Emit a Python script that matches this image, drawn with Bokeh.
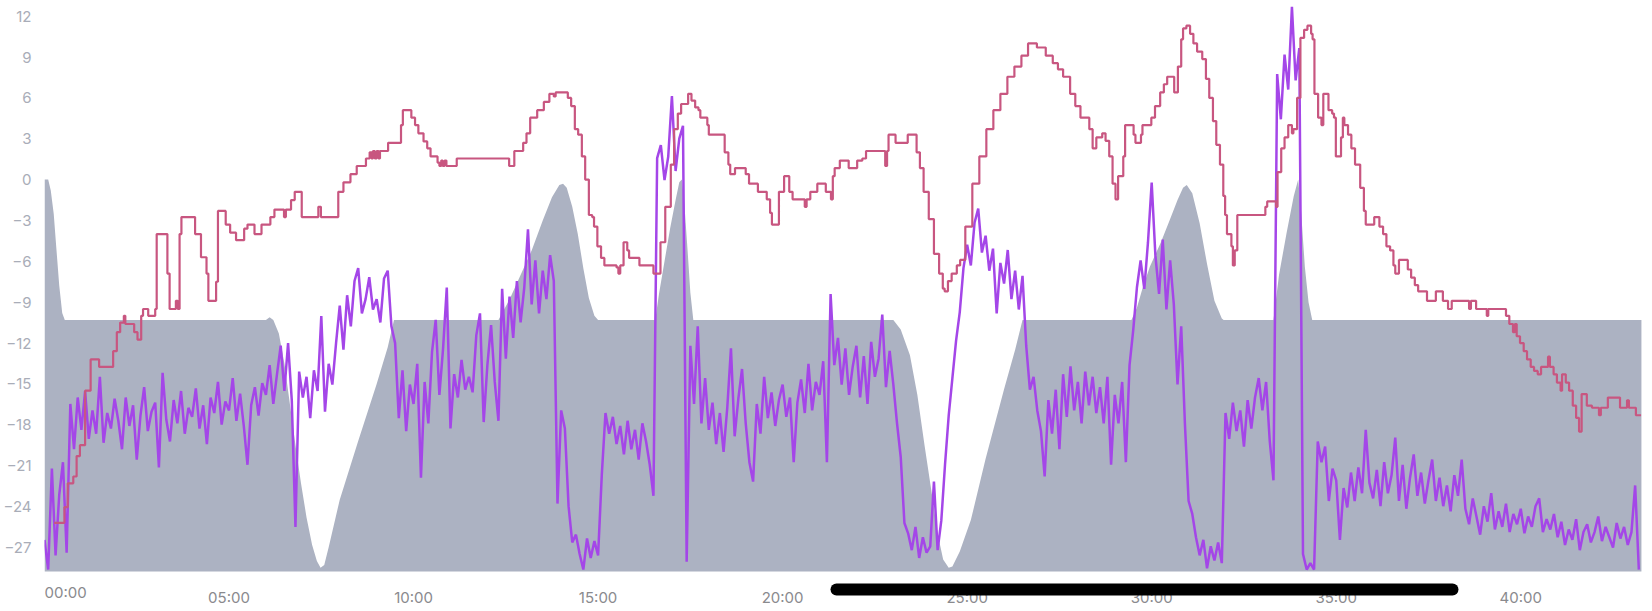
from bokeh.plotting import figure
from bokeh.models import Range1d, FixedTicker, Label, BoxAnnotation, LinearAxis
from bokeh.embed import file_html
from bokeh.resources import INLINE

# ---------------- data (time in minutes) ----------------
# grey area (left axis)
gray_t = [0.0, 0.1, 0.17, 0.25, 0.32, 0.4, 0.48, 0.55,
          6.0, 6.1, 6.2, 6.35, 6.5, 6.65, 6.8, 6.95, 7.1, 7.25, 7.38, 7.48, 7.58, 7.7, 8.0, 8.5, 9.0, 9.3, 9.47,
          12.3, 12.6, 12.9, 13.2, 13.5, 13.75, 13.95, 14.05, 14.15, 14.3, 14.45, 14.6, 14.75, 14.9, 15.0,
          16.55, 16.65, 16.8, 16.95, 17.1, 17.2, 17.27, 17.33, 17.42, 17.5, 17.58,
          23.0, 23.2, 23.45, 23.65, 23.85, 24.05, 24.2, 24.35, 24.5, 24.6, 24.8, 25.1, 25.5, 26.0, 26.3, 26.5,
          29.45, 29.6, 29.75, 29.95, 30.25, 30.5, 30.7, 30.85, 30.95, 31.1, 31.3, 31.5, 31.7, 31.9, 31.95,
          33.3, 33.45, 33.65, 33.85, 33.97, 34.05, 34.15, 34.25, 34.35,
          43.27]
gray_v = [0.0, 0.0, -0.8, -2.5, -5.0, -7.8, -9.8, -10.3,
          -10.3, -10.1, -10.3, -11.3, -13.5, -16.5, -19.5, -22.3, -24.8, -26.8, -28.0, -28.5, -28.3, -27.0, -23.5, -19.2, -15.0, -12.3, -10.3,
          -10.3, -8.8, -7.0, -5.2, -3.0, -1.3, -0.4, -0.3, -0.6, -2.0, -4.0, -6.5, -8.7, -10.0, -10.3,
          -10.3, -8.4, -6.0, -3.6, -1.5, -0.2, 0.0, -1.5, -5.0, -8.3, -10.3,
          -10.3, -11.0, -12.9, -15.8, -19.6, -23.2, -26.0, -27.9, -28.5, -28.4, -27.3, -25.0, -20.5, -15.4, -12.5, -10.3,
          -10.3, -9.4, -8.0, -6.4, -4.6, -2.9, -1.5, -0.6, -0.4, -1.0, -3.2, -6.2, -8.9, -10.2, -10.3,
          -10.3, -7.0, -4.0, -1.2, 0.0, -2.4, -6.4, -9.0, -10.3,
          -10.3]

# red stepped line (left axis)
red_t = [0.26, 0.49, 0.54, 0.63, 0.78, 0.87, 0.96, 1.1, 1.25, 1.44, 1.48, 1.77, 1.86, 1.96, 2.05, 2.15, 2.19, 2.33,
         2.43, 2.52, 2.62, 2.67, 2.76, 2.81, 2.95, 3.0, 3.04, 3.23, 3.33, 3.39, 3.52, 3.56, 3.61, 3.66, 3.71, 4.04,
         4.08, 4.18, 4.24, 4.32, 4.39, 4.44, 4.57, 4.65, 4.7, 4.84, 4.91, 4.98, 5.03, 5.17, 5.19, 5.36, 5.41, 5.5,
         5.64, 5.69, 5.83, 5.88, 6.07, 6.12, 6.21, 6.23, 6.45, 6.49, 6.54, 6.64, 6.68, 6.76, 6.78, 6.92, 6.97, 7.39,
         7.42, 7.47, 7.49, 7.86, 7.96, 8.05, 8.1, 8.24, 8.29, 8.43, 8.46, 8.67, 8.71, 8.81, 8.86, 8.9, 8.95, 9.0,
         9.05, 9.09, 9.28, 9.31, 9.57, 9.66, 9.71, 9.9, 9.94, 10.04, 10.13, 10.27, 10.37, 10.46, 10.65, 10.7, 10.75,
         10.79, 10.84, 10.89, 11.12, 11.17, 12.54, 12.59, 12.68, 12.73, 12.92, 12.97, 13.06, 13.16, 13.25, 13.35,
         13.53, 13.68, 13.8, 13.85, 14.08, 14.18, 14.27, 14.37, 14.46, 14.56, 14.65, 14.75, 14.84, 14.89, 14.98,
         15.08, 15.17, 15.5, 15.55, 15.6, 15.69, 15.79, 15.84, 16.07, 16.12, 16.45, 16.5, 16.64, 16.69, 16.82,
         16.97, 17.06, 17.16, 17.25, 17.44, 17.53, 17.63, 17.72, 17.77, 17.86, 17.96, 18.0, 18.34, 18.43, 18.53,
         18.58, 18.67, 18.71, 18.95, 19.0, 19.09, 19.23, 19.33, 19.47, 19.57, 19.66, 19.71, 19.85, 19.9, 20.04,
         20.11, 20.18, 20.27, 20.56, 20.6, 20.65, 20.75, 20.89, 20.94, 21.12, 21.17, 21.27, 21.31, 21.36, 21.41,
         21.55, 21.74, 21.79, 21.93, 22.02, 22.16, 22.26, 22.73, 22.78, 22.83, 22.87, 23.01, 23.06, 23.35, 23.39,
         23.53, 23.63, 23.72, 23.82, 23.96, 24.1, 24.24, 24.34, 24.39, 24.48, 24.58, 24.72, 24.81, 24.95, 25.14,
         25.33, 25.52, 25.71, 25.9, 26.09, 26.28, 26.47, 26.65, 26.8, 26.89, 27.13, 27.32, 27.46, 27.6, 27.79,
         27.93, 28.07, 28.26, 28.31, 28.4, 28.5, 28.66, 28.75, 28.85, 28.94, 29.02, 29.09, 29.18, 29.23, 29.28,
         29.42, 29.51, 29.56, 29.66, 29.71, 29.75, 29.9, 29.99, 30.09, 30.23, 30.33, 30.42, 30.56, 30.61, 30.66,
         30.71, 30.8, 30.85, 30.94, 31.04, 31.13, 31.23, 31.37, 31.47, 31.56, 31.66, 31.75, 31.85, 31.94, 31.99,
         32.04, 32.08, 32.16, 32.2, 32.25, 32.32, 33.03, 33.08, 33.13, 33.32, 33.37, 33.41, 33.51, 33.6, 33.7,
         33.8, 33.84, 33.94, 34.03, 34.13, 34.22, 34.32, 34.36, 34.41, 34.51, 34.6, 34.65, 34.75, 34.79, 34.89,
         34.94, 34.99, 35.08, 35.13, 35.18, 35.22, 35.32, 35.41, 35.51, 35.65, 35.75, 35.8, 35.99, 36.03, 36.13,
         36.17, 36.27, 36.36, 36.46, 36.55, 36.6, 36.7, 36.89, 36.94, 37.03, 37.13, 37.22, 37.36, 37.46, 37.65,
         37.7, 37.84, 37.89, 37.99, 38.03, 38.13, 38.55, 38.6, 38.65, 38.74, 38.79, 39.03, 39.08, 39.12, 39.5,
         39.6, 39.69, 39.79, 39.84, 39.89, 39.98, 40.08, 40.17, 40.27, 40.36, 40.46, 40.55, 40.65, 40.74, 40.79,
         40.89, 40.98, 41.08, 41.12, 41.22, 41.31, 41.41, 41.5, 41.58, 41.65, 41.79, 41.93, 42.07, 42.12, 42.17,
         42.31, 42.36, 42.64, 42.69, 42.83, 42.88, 42.93, 43.07, 43.12, 43.26]
red_v = [-25.2, -25.2, -24.05, -22.3, -21.8, -20.3, -19.5, -15.5, -13.2, -13.2, -13.75, -13.75, -12.6, -11.2, -10.5, -10.0, -10.6, -10.6,
         -11.2, -11.75, -10.0, -9.5, -9.5, -10.0, -10.0, -9.5, -4.0, -4.0, -6.9, -9.5, -9.5, -8.9, -9.5, -4.0, -2.75, -2.75,
         -4.0, -4.0, -5.7, -5.7, -6.9, -8.9, -8.9, -7.5, -2.3, -2.3, -3.3, -3.3, -3.9, -3.9, -4.45, -4.45, -3.6, -3.3,
         -3.3, -4.0, -4.0, -3.3, -3.3, -2.75, -2.75, -2.2, -2.2, -2.75, -2.2, -2.2, -1.5, -1.5, -0.9, -0.9, -2.75, -2.75,
         -2.0, -2.0, -2.75, -2.75, -0.9, -0.9, -0.2, -0.2, 0.4, 0.4, 1.0, 1.0, 1.55, 2.0, 1.55, 2.1, 1.55, 2.1,
         1.55, 2.1, 2.1, 2.7, 2.7, 4.0, 5.1, 5.1, 4.55, 4.0, 3.4, 2.8, 2.3, 1.7, 1.25, 1.0, 1.4,
         1.0, 1.4, 1.0, 1.0, 1.55, 1.55, 1.0, 1.0, 2.1, 2.1, 2.7, 3.4, 4.55, 4.55, 5.1,
         5.7, 6.3, 6.1, 6.4, 6.4, 6.0, 5.4, 3.7, 3.3, 1.7, 0.0, -2.6, -2.75, -3.45, -4.9,
         -5.75, -6.3, -6.45, -6.9, -6.3, -4.6, -5.2, -5.75, -5.75, -6.3, -6.3, -6.9, -6.9, -4.6, -2.0,
         1.1, 3.7, 4.85, 5.55, 6.3, 5.8, 5.3, 5.1, 4.55, 4.55, 4.0, 3.3, 3.3, 2.0, 1.1,
         0.4, 0.4, 0.85, 0.85, 0.4, -0.3, -0.3, -0.9, -0.9, -1.45, -2.45, -3.3, -3.3, -0.9, 0.25,
         0.25, -0.9, -1.45, -1.45, -2.0, -1.45, -0.9, -0.9, -0.3, -0.3, -0.9, -0.9, -1.45, 0.25, 0.85,
         1.4, 1.4, 0.85, 0.85, 1.4, 1.55, 2.1, 2.1, 1.0, 2.1, 3.3, 3.3, 2.7, 2.7, 3.3,
         3.3, 2.0, 0.85, -0.9, -2.9, -5.45, -6.9, -8.0, -8.2, -7.45, -6.9, -6.3, -5.9, -3.45, -0.3,
         1.7, 3.7, 5.1, 6.3, 7.55, 8.3, 9.1, 10.0, 10.0, 9.7, 9.1, 8.55, 8.1, 7.55, 6.3,
         5.4, 4.55, 4.55, 3.7, 2.3, 3.1, 3.4, 2.85, 1.7, -0.3, -1.45, 0.25, 0.25, 1.7, 4.0,
         4.0, 3.3, 2.7, 2.7, 3.3, 4.0, 4.0, 4.55, 5.4, 6.4, 7.0, 7.55, 7.55, 6.4, 6.4,
         8.3, 10.3, 11.1, 11.3, 10.7, 10.0, 9.4, 8.85, 7.4, 6.0, 4.3, 2.55, 1.1, -1.2, -2.6,
         -4.0, -4.0, -4.9, -6.3, -5.2, -2.6, -2.6, -2.0, -1.6, -1.6, -2.0, 0.55, 2.3, 3.1, 4.0,
         3.4, 3.7, 6.0, 10.4, 11.0, 11.3, 10.7, 10.3, 6.3, 4.55, 4.0, 6.3, 6.3, 5.1, 4.85,
         4.55, 1.7, 1.7, 3.1, 4.55, 4.0, 3.3, 2.3, 1.1, -0.6, -2.3, -3.3, -3.3, -2.75, -2.75,
         -3.45, -4.0, -4.9, -5.2, -6.3, -6.9, -5.9, -5.9, -6.6, -7.2, -7.75, -8.2, -8.2, -8.9, -8.9,
         -8.2, -8.2, -8.9, -8.9, -9.5, -8.9, -8.9, -9.5, -8.9, -8.9, -9.5, -9.5, -10.0, -9.5, -9.5,
         -10.0, -10.6, -11.2, -10.6, -11.5, -12.0, -12.6, -13.2, -13.75, -14.05, -14.3, -13.75, -13.75, -13.0, -13.75,
         -14.3, -14.9, -15.5, -14.3, -14.9, -15.5, -16.6, -17.5, -18.5, -15.75, -16.6, -16.75, -16.75, -17.3, -16.75,
         -16.75, -16.0, -16.0, -16.75, -16.75, -16.2, -16.75, -16.75, -17.3, -17.3]

# purple line (right axis), one reading every 6 s (0.1 min)
purple_step = 0.1
purple_v = [
    2.0, -0.3, 7.5, 0.8, 5.5, 8.0, 1.0, 12.5, 9.0, 13.0,          # 0
    10.5, 13.5, 9.8, 12.0, 10.2, 14.6, 9.5, 11.8, 10.6, 12.9,     # 1
    11.2, 9.0, 13.0, 10.8, 12.4, 8.2, 11.6, 13.8, 10.4, 11.9,     # 2
    12.6, 7.6, 14.9, 11.3, 9.6, 12.8, 11.0, 13.5, 10.2, 12.2,     # 3
    11.5, 13.7, 10.6, 12.4, 9.4, 13.0, 11.8, 14.2, 10.9, 12.7,    # 4
    12.0, 14.5, 11.2, 13.3, 10.8, 7.8, 12.4, 13.8, 11.6, 14.1,    # 5
    13.2, 15.5, 12.5, 14.8, 17.0, 13.5, 17.2, 12.8, 3.0, 15.0,    # 6
    13.0, 14.6, 11.4, 15.1, 13.5, 19.3, 11.9, 15.6, 14.0, 17.2,   # 7
    20.1, 16.7, 20.9, 18.5, 22.0, 23.0, 19.5, 20.6, 22.3, 19.8,   # 8
    20.6, 18.8, 22.2, 22.8, 18.5, 17.2, 11.4, 15.1, 10.4, 14.0,   # 9
    12.5, 15.6, 6.8, 14.2, 11.0, 16.5, 19.0, 13.2, 16.8, 21.5,    # 10
    10.6, 14.8, 13.0, 15.9, 13.6, 14.6, 13.4, 17.8, 19.5, 11.1,   # 11
    15.5, 18.6, 14.2, 11.2, 21.4, 16.0, 20.8, 17.6, 22.0, 18.8,   # 12
    21.5, 26.0, 20.2, 23.6, 19.5, 22.8, 20.6, 24.0, 22.0, 4.8,    # 13
    12.0, 10.6, 4.6, 1.8, 2.4, 0.9, -0.3, 2.1, 0.6, 1.9,          # 14
    0.8, 7.0, 11.8, 10.2, 11.5, 9.4, 10.8, 8.6, 11.2, 9.0,        # 15
    10.5, 8.2, 11.0, 9.6, 7.8, 5.4, 31.5, 32.5, 29.8, 31.6,       # 16
    36.3, 30.5, 33.0, 34.0, 0.3, 17.0, 12.5, 18.5, 11.0, 14.5,    # 17
    10.5, 12.6, 9.4, 11.8, 8.8, 12.2, 16.8, 10.0, 12.9, 15.2,     # 18
    11.0, 8.0, 6.5, 12.5, 10.2, 14.6, 11.4, 13.4, 10.8, 12.8,     # 19
    14.0, 11.5, 13.0, 8.0, 12.6, 14.4, 11.8, 15.6, 12.0, 14.2,    # 20
    13.2, 15.8, 8.0, 21.0, 15.5, 17.6, 14.0, 16.8, 13.2, 15.4,    # 21
    17.0, 13.0, 16.2, 12.5, 17.3, 14.6, 16.0, 19.4, 13.8, 16.6,   # 22
    14.0, 11.0, 8.4, 3.3, 2.5, 1.2, 3.0, 0.6, 2.2, 1.0,           # 23
    1.5, 6.5, 1.2, 3.5, 7.8, 11.6, 14.5, 17.4, 19.6, 23.0,        # 24
    24.8, 23.2, 26.5, 27.6, 24.2, 25.5, 22.8, 24.5, 19.5, 23.4,   # 25
    21.8, 24.4, 20.6, 22.8, 19.8, 22.4, 17.0, 13.6, 14.6, 12.0,   # 26
    10.4, 6.9, 12.8, 10.2, 13.6, 9.0, 14.8, 11.5, 15.4, 12.0,     # 27
    14.2, 11.0, 15.0, 12.4, 14.6, 11.8, 13.8, 11.0, 14.6, 7.8,    # 28
    13.2, 11.0, 14.2, 8.0, 15.5, 18.2, 21.5, 23.6, 21.4, 25.0,    # 29
    29.6, 24.0, 21.0, 25.2, 19.8, 23.6, 20.2, 14.0, 18.5, 11.0,   # 30
    5.0, 4.0, 2.2, 0.8, 2.0, -0.2, 1.5, 0.4, 1.8, 0.2,            # 31
    11.8, 9.8, 12.6, 10.4, 12.0, 9.2, 12.8, 10.6, 13.0, 14.5,     # 32
    12.0, 14.2, 9.6, 6.6, 38.0, 34.5, 39.5, 36.8, 43.2, 37.5,     # 33
    40.0, 0.9, -0.3, 0.2, -0.3, 9.6, 8.0, 9.2, 5.0, 7.5,          # 34
    6.6, 2.0, 6.0, 4.5, 7.2, 5.0, 7.6, 5.6, 10.5, 6.4,            # 35
    5.2, 7.4, 4.6, 8.0, 5.6, 7.0, 9.9, 5.0, 7.8, 4.4,             # 36
    6.8, 8.6, 5.4, 7.2, 4.8, 6.6, 8.2, 5.0, 6.8, 4.6,             # 37
    6.2, 4.2, 7.0, 5.4, 8.2, 4.4, 3.2, 5.2, 3.8, 2.4,             # 38
    4.6, 3.4, 5.6, 2.8, 4.2, 3.0, 4.8, 2.6, 4.0, 3.2,             # 39
    4.4, 2.5, 3.8, 3.0, 4.6, 5.2, 2.6, 3.6, 2.8, 4.0,             # 40
    2.2, 3.4, 1.6, 2.8, 2.0, 3.6, 1.2, 2.6, 3.2, 1.8,             # 41
    2.6, 3.8, 1.9, 3.0, 2.2, 1.4, 3.3, 2.1, 3.0, 1.6,             # 42
    2.6, 6.2, -0.3,                                               # 43
]
purple_t = [round(i * purple_step, 2) for i in range(len(purple_v))]

left_ticks = [-27, -24, -21, -18, -15, -12, -9, -6, -3, 0, 3, 6, 9, 12]
right_ticks = [12, 18, 24, 30, 36, 42]
x_ticks = [0, 5, 10, 15, 20, 25, 30, 35, 40]
x_tick_labels = ["00:00", "05:00", "10:00", "15:00", "20:00", "25:00", "30:00", "35:00", "40:00"]

# ---------------- layout constants ----------------
DATA_END = 43.27          # last sample (right edge of the plotted data)
GRAY_BASE = -28.77        # left-axis value at the bottom of the plotted area
LEFT_RANGE = (-31.71, 13.15)
RIGHT_RANGE = (-3.54, 43.68)
X_RANGE = (0.0, 43.57)

GRAY = "#acb2c2"
RED = "#c85680"
PURPLE = "#a446e8"
FONT = "Inter"
FSIZE = "15px"
XLAB = "#8a8a8e"

p = figure(width=1652, height=611, output_backend="svg", toolbar_location=None,
           x_range=Range1d(*X_RANGE), y_range=Range1d(*LEFT_RANGE),
           min_border_left=40, min_border_right=0, min_border_top=0, min_border_bottom=0)
p.extra_y_ranges = {"right": Range1d(*RIGHT_RANGE)}
p.xgrid.visible = False
p.ygrid.visible = False
p.outline_line_color = None
p.background_fill_color = "white"
p.border_fill_color = "white"

p.varea(x=gray_t, y1=[GRAY_BASE] * len(gray_t), y2=gray_v, fill_color=GRAY)
p.line(purple_t, purple_v, y_range_name="right", line_color=PURPLE, line_width=2.5)
p.step(red_t, red_v, mode="after", line_color=RED, line_width=2.2)

# left axis
ya = p.yaxis[0]
ya.ticker = FixedTicker(ticks=left_ticks)
ya.axis_line_color = None
ya.major_tick_line_color = None
ya.minor_tick_line_color = None
ya.major_label_text_font = FONT
ya.major_label_text_font_size = FSIZE
ya.major_label_text_color = "#a9adb8"
ya.major_label_standoff = 7

# bottom axis, drawn just under the plotted area
xa = p.xaxis[0]
xa.fixed_location = GRAY_BASE
xa.ticker = FixedTicker(ticks=x_ticks)
overrides = {t: lab for t, lab in zip(x_ticks, x_tick_labels)}
overrides[x_ticks[0]] = ""
xa.major_label_overrides = overrides
xa.axis_line_color = None
xa.major_tick_line_color = None
xa.minor_tick_line_color = None
xa.major_label_text_font = FONT
xa.major_label_text_font_size = FSIZE
xa.major_label_text_color = XLAB
xa.major_label_standoff = 11

# first time label starts at the left edge of the plot
p.add_layout(Label(x=x_ticks[0], y=GRAY_BASE, y_offset=-21, text=x_tick_labels[0],
                   text_align="left", text_baseline="middle", text_font=FONT,
                   text_font_size=FSIZE, text_color=XLAB))

# right axis (labels run into the page edge, as in the original)
ra = LinearAxis(y_range_name="right", fixed_location=DATA_END,
                ticker=FixedTicker(ticks=right_ticks))
ra.axis_line_color = None
ra.major_tick_line_color = None
ra.minor_tick_line_color = None
ra.major_label_text_font = FONT
ra.major_label_text_font_size = FSIZE
ra.major_label_text_color = "#9d5fd3"
ra.major_label_standoff = 8
p.add_layout(ra, "right")

# black rounded bar lying over the bottom labels
p.add_layout(BoxAnnotation(left=830, right=1458, top=583, bottom=595,
                           left_units="canvas", right_units="canvas",
                           top_units="canvas", bottom_units="canvas",
                           fill_color="black", fill_alpha=1.0, line_color=None,
                           border_radius=6))

open("out.html", "w").write(file_html(p, INLINE))
